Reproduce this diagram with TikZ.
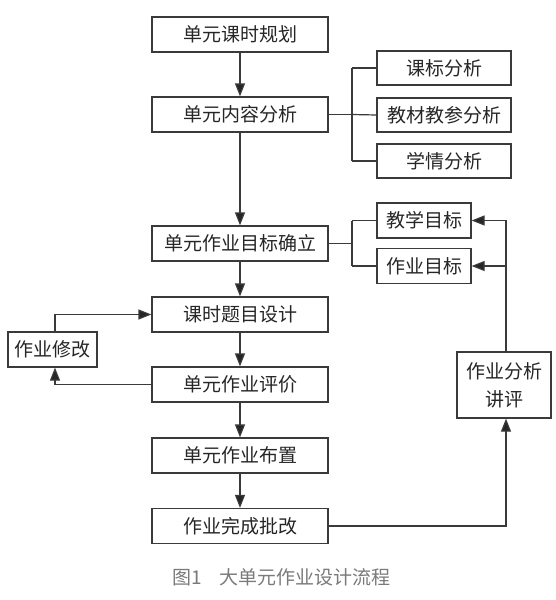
\documentclass[tikz,border=0pt]{standalone}
\usepackage{fontspec}
\setmainfont{Noto Sans CJK SC}
\usetikzlibrary{arrows.meta}
\definecolor{ln}{HTML}{3A3A3A}
\definecolor{cap}{HTML}{7A7A7A}
\tikzset{
  box/.style={draw=ln, line width=1.2pt, fill=white, minimum height=35pt, inner sep=0pt, font=\fontsize{19}{22}\selectfont, text=black!85},
  mainbox/.style={box, minimum width=176pt},
  conn/.style={draw=ln, line width=1.2pt},
  arr/.style={conn, -{Triangle[length=13pt,width=10pt,fill=black!85]}}
}
\begin{document}
\begin{tikzpicture}[x=1pt,y=-1pt]
\useasboundingbox (0,0) rectangle (556,600);
\fill[white] (0,0) rectangle (556,600);
% main column
\node[mainbox] (b1) at (240,34.5) {单元课时规划};
\node[mainbox] (b2) at (240,114.5) {单元内容分析};
\node[mainbox] (b3) at (240,243.5) {单元作业目标确立};
\node[mainbox] (b4) at (240,314.5) {课时题目设计};
\node[mainbox] (b5) at (240,384.5) {单元作业评价};
\node[mainbox] (b6) at (240,455.5) {单元作业布置};
\node[mainbox] (b7) at (240,526) {作业完成批改};
% right analysis boxes
\node[box, minimum width=134pt, minimum height=34pt] (r1) at (444,68) {课标分析};
\node[box, minimum width=134pt, minimum height=34pt] (r2) at (444,115) {教材教参分析};
\node[box, minimum width=134pt, minimum height=34pt] (r3) at (444,161) {学情分析};
% goals
\node[box, minimum width=94pt] (g1) at (424,220.5) {教学目标};
\node[box, minimum width=94pt] (g2) at (424,266) {作业目标};
% feedback
\node[box, minimum width=94pt, minimum height=66pt, align=center, font=\fontsize{19}{28}\selectfont] (fb) at (504,385) {作业分析\\讲评};
\node[box, minimum width=89pt] (xg) at (52.5,349.5) {作业修改};
% caption
\node[anchor=west, inner sep=0pt, text=cap, font=\fontsize{19}{22}\selectfont] (cp) at (172,577) {图1\hspace{18pt}大单元作业设计流程};
% coordinates
\coordinate (k1) at (352,114.5);
\coordinate (k1t) at (352,68);
\coordinate (k1b) at (352,161);
\coordinate (k2) at (352,243.5);
\coordinate (k2t) at (352,220.5);
\coordinate (k2b) at (352,266);
\coordinate (f1) at (506,526);
\coordinate (f2) at (506,220.5);
\coordinate (f3) at (506,266);
\coordinate (m1) at (55,384.5);
\coordinate (m2) at (55,314.5);
% main arrows
\draw[arr] (b1) -- (b2);
\draw[arr] (b2) -- (b3);
\draw[arr] (b3) -- (b4);
\draw[arr] (b4) -- (b5);
\draw[arr] (b5) -- (b6);
\draw[arr] (b6) -- (b7);
% bracket 1
\draw[conn] (b2.east) -- (k1);
\draw[conn] (k1t) -- (k1b);
\draw[conn] (k1t) -- (r1.west);
\draw[conn] (k1) -- (r2.west);
\draw[conn] (k1b) -- (r3.west);
% bracket 2
\draw[conn] (b3.east) -- (k2);
\draw[conn] (k2t) -- (k2b);
\draw[conn] (k2t) -- (g1.west);
\draw[conn] (k2b) -- (g2.west);
% feedback loop
\draw[arr] (b7.east) -- (f1) -- (f1 |- fb.south);
\draw[arr] (f3 |- fb.north) -- (f2) -- (g1.east);
\draw[arr] (f3) -- (g2.east);
% revision loop
\draw[arr] (b5.west) -- (m1) -- (m1 |- xg.south);
\draw[arr] (m1 |- xg.north) -- (m2) -- (b4.west);
\end{tikzpicture}
\end{document}
